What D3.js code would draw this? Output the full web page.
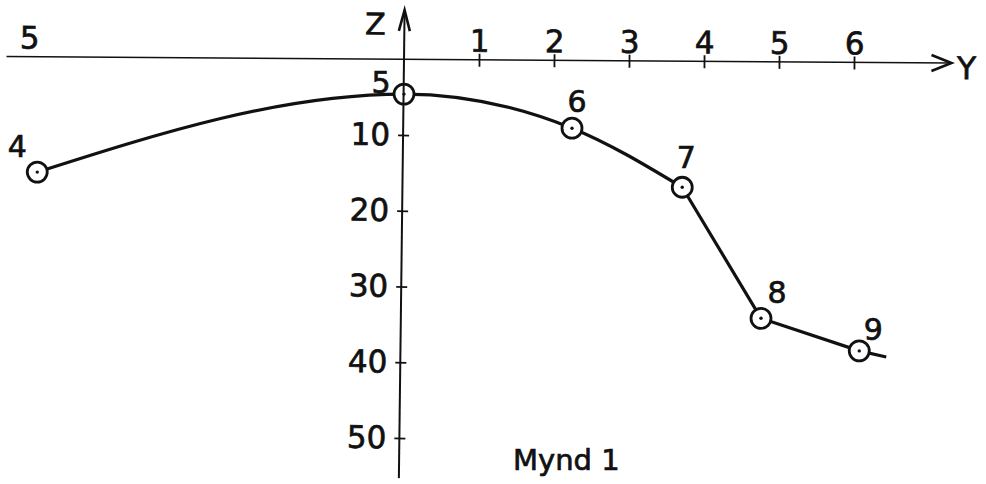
<!DOCTYPE html>
<html lang="is">

<head>
  <meta charset="UTF-8">
  <title>Mynd 1</title>
  <script src="https://cdn.jsdelivr.net/npm/d3@7"></script>
  <style>
    body {
      margin: 0;
      background: #fff;
    }

    svg {
      display: block;
    }

    text {
      font-family: "DejaVu Sans", sans-serif;
      fill: #111;
      stroke: #111;
      stroke-width: 0.7px;
    }
  </style>
</head>

<body>
  <div id="chart"></div>
  <script>
    // point numbers and their (Y, Z) positions
    const pointLabels = ["4", "5", "6", "7", "8", "9"]
    const yValues = [-4.89, 0, 2.24, 3.71, 4.76, 6.07]
    const zValues = [14.9, 4.6, 9.1, 16.9, 34.2, 38.5]
    // where the drawn line runs out past point 9
    const tailY = 6.43
    const tailZ = 39.3

    const yTicks = [-5, 1, 2, 3, 4, 5, 6]
    const zTicks = [10, 20, 30, 40, 50]

    const width = 986
    const height = 484

    // label offsets (px) from each circle centre
    const labelOffsets = [[-20, -15], [-23, -1], [5, -16], [4, -19], [16, -15], [14, -11]]

    const points = pointLabels.map((p, i) => ({ label: p, y: yValues[i], z: zValues[i] }))

    const x = d3.scaleLinear().domain([0, 6]).range([404, 854])
    const z = d3.scaleLinear().domain([0, 50]).range([59.25, 438])

    const svg = d3.select("#chart")
      .append("svg")
      .attr("width", width)
      .attr("height", height)

    const ink = "#111"

    // the curve: smooth through 4-7, straight pieces after
    const line = d3.line()
      .x(d => x(d.y))
      .y(d => z(d.z))

    svg.append("path")
      .attr("d", line.curve(d3.curveMonotoneX)(points.slice(0, 4)))
      .attr("fill", "none")
      .attr("stroke", ink)
      .attr("stroke-width", 3.2)

    svg.append("path")
      .attr("d", d3.line().x(d => x(d.y)).y(d => z(d.z))(points.slice(3).concat([{ y: tailY, z: tailZ }])))
      .attr("fill", "none")
      .attr("stroke", ink)
      .attr("stroke-width", 3.2)
      .attr("stroke-linejoin", "round")

    // circled points
    const pts = svg.append("g")
      .selectAll("g")
      .data(points)
      .enter()
      .append("g")
      .attr("transform", d => `translate(${x(d.y)}, ${z(d.z)})`)

    pts.append("circle")
      .attr("r", 10)
      .attr("fill", "#fff")
      .attr("stroke", ink)
      .attr("stroke-width", 2.8)

    pts.append("circle")
      .attr("r", 1.7)
      .attr("fill", ink)

    pts.append("text")
      .attr("x", (_, i) => labelOffsets[i][0])
      .attr("y", (_, i) => labelOffsets[i][1])
      .attr("text-anchor", "middle")
      .style("font-size", "30px")
      .text(d => d.label)

    // horizontal Y axis
    const yAxisG = svg.append("g")
      .attr("transform", `rotate(0.4, ${x(0)}, ${z(0)})`)

    yAxisG.append("line")
      .attr("x1", x(-5.3)).attr("x2", x(7.3))
      .attr("y1", z(0)).attr("y2", z(0))
      .attr("stroke", ink)
      .attr("stroke-width", 1.6)

    yAxisG.append("path")
      .attr("d", `M${x(7.3) - 20},${z(0) - 8} L${x(7.3)},${z(0)} L${x(7.3) - 20},${z(0) + 8}`)
      .attr("fill", "none")
      .attr("stroke", ink)
      .attr("stroke-width", 2.6)

    const xAxis = d3.axisTop(x)
      .tickValues(yTicks)
      .tickSize(0)
      .tickPadding(8)
      .tickFormat(d => Math.abs(d))

    const xg = yAxisG.append("g")
      .attr("transform", `translate(0, ${z(0)})`)
      .call(xAxis)
    xg.select(".domain").remove()
    xg.selectAll(".tick line")
      .attr("y1", d => d < 0 ? 0 : -6)
      .attr("y2", d => d < 0 ? 0 : 7)
      .attr("stroke", ink)
      .attr("stroke-width", 1.8)
    xg.selectAll(".tick text")
      .style("font-family", "DejaVu Sans")
      .style("font-size", "31px")
      .attr("fill", ink)

    yAxisG.append("text")
      .attr("x", x(7.3) + 15)
      .attr("y", z(0) + 16)
      .attr("text-anchor", "middle")
      .style("font-size", "31px")
      .text("Y")

    // vertical Z axis
    const zAxisG = svg.append("g")
      .attr("transform", `rotate(0.7, ${x(0)}, ${z(0)})`)

    zAxisG.append("line")
      .attr("x1", x(0)).attr("x2", x(0))
      .attr("y1", z(-6.5)).attr("y2", z(55.3))
      .attr("stroke", ink)
      .attr("stroke-width", 2)

    zAxisG.append("path")
      .attr("d", `M${x(0) - 5.5},${z(-6.5) + 21} L${x(0)},${z(-6.5)} L${x(0) + 5.5},${z(-6.5) + 21}`)
      .attr("fill", "none")
      .attr("stroke", ink)
      .attr("stroke-width", 2.6)

    const zAxis = d3.axisLeft(z)
      .tickValues(zTicks)
      .tickSize(0)
      .tickPadding(13)

    const zg = zAxisG.append("g")
      .attr("transform", `translate(${x(0)}, 0)`)
      .call(zAxis)
    zg.select(".domain").remove()
    zg.selectAll(".tick line")
      .attr("x1", -5)
      .attr("x2", 6)
      .attr("stroke", ink)
      .attr("stroke-width", 1.8)
    zg.selectAll(".tick text")
      .style("font-family", "DejaVu Sans")
      .style("font-size", "31px")
      .attr("fill", ink)

    zAxisG.append("text")
      .attr("x", x(0) - 29)
      .attr("y", 35)
      .attr("text-anchor", "middle")
      .style("font-size", "30px")
      .text("Z")

    svg.append("text")
      .attr("x", 513)
      .attr("y", 470)
      .style("font-size", "29px")
      .text("Mynd 1")
  </script>
</body>

</html>
